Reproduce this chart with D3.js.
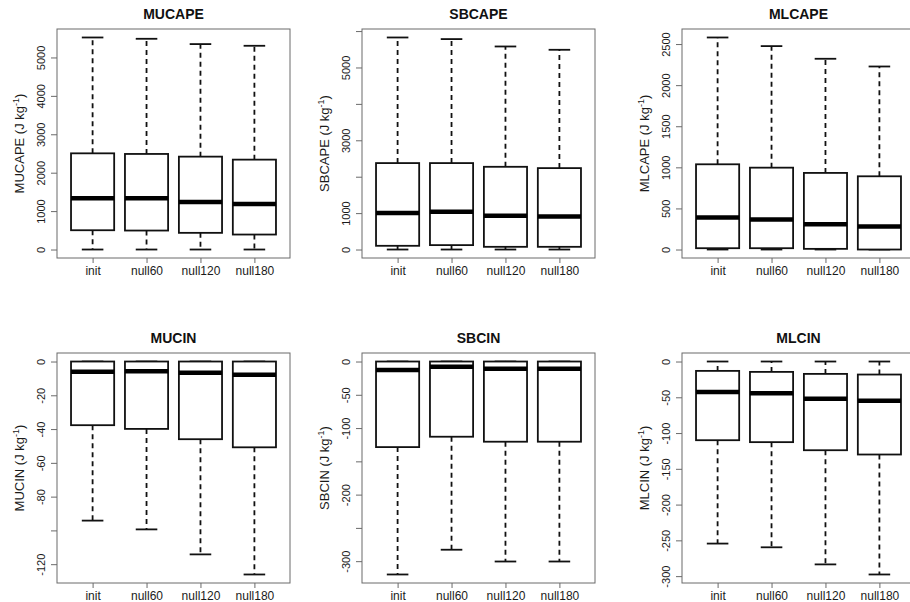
<!DOCTYPE html>
<html>
<head>
<meta charset="utf-8">
<script src="https://cdn.jsdelivr.net/npm/d3@7"></script>
<style>
  body { margin: 0; background: #fff; }
  svg { display: block; font-family: "Liberation Sans", Arial, sans-serif; }
</style>
</head>
<body>
<svg id="chart"></svg>
<script>
// groups on the x axis
var groups = ["init", "null60", "null120", "null180"];

// box stats per group: [lower whisker, Q1, median, Q3, upper whisker]
var mucape = [[0, 502, 1334, 2504, 5520], [0, 494, 1334, 2488, 5486], [0, 434, 1240, 2418, 5348], [0, 390, 1188, 2340, 5304]];
var sbcape = [[0, 102, 1000, 2374, 5824], [0, 121, 1036, 2374, 5780], [0, 74, 926, 2272, 5577], [0, 74, 907, 2236, 5486]];
var mlcape = [[0, 16, 389, 1037, 2580], [0, 16, 365, 996, 2475], [0, 8, 308, 932, 2321], [0, 0, 280, 891, 2227]];
var mucin = [[-94.2, -37.7, -6, 0, 0], [-99.4, -39.9, -5.7, 0, 0], [-114.2, -46, -6.7, 0, 0], [-126.1, -50.8, -7.9, 0, 0]];
var sbcin = [[-320, -128.6, -12.6, 0, 0], [-282.8, -113, -8, 0, 0], [-300.5, -120.5, -11, 0, 0], [-300.5, -120.5, -11, 0, 0]];
var mlcin = [[-254.5, -110, -42.6, -13.1, 0], [-259.7, -112.7, -44.5, -14.5, 0], [-283.6, -124, -52, -17.3, 0], [-297.7, -130, -54.8, -18.2, 0]];

// y ticks and which of them carry a label
var mucapeTicks = [0, 1000, 2000, 3000, 4000, 5000];
var mucapeLabels = [0, 1000, 2000, 3000, 4000, 5000];
var sbcapeTicks = [0, 1000, 2000, 3000, 4000, 5000, 6000];
var sbcapeLabels = [0, 1000, 3000, 5000];
var mlcapeTicks = [0, 500, 1000, 1500, 2000, 2500];
var mlcapeLabels = [0, 500, 1000, 1500, 2000, 2500];
var mucinTicks = [0, -20, -40, -60, -80, -100, -120];
var mucinLabels = [0, -20, -40, -60, -80, -120];
var sbcinTicks = [0, -50, -100, -150, -200, -250, -300];
var sbcinLabels = [0, -50, -100, -200, -300];
var mlcinTicks = [0, -50, -100, -150, -200, -250, -300];
var mlcinLabels = [0, -50, -100, -150, -200, -250, -300];

var width = 910, height = 602;

var svg = d3.select("#chart")
  .attr("width", width)
  .attr("height", height);

// plot frames (left, top, right, bottom)
var panels = [
  {name: "MUCAPE", stats: mucape, ticks: mucapeTicks, labels: mucapeLabels, box: [57, 29, 290, 258]},
  {name: "SBCAPE", stats: sbcape, ticks: sbcapeTicks, labels: sbcapeLabels, box: [362, 29, 595, 258]},
  {name: "MLCAPE", stats: mlcape, ticks: mlcapeTicks, labels: mlcapeLabels, box: [682, 29, 915, 258]},
  {name: "MUCIN", stats: mucin, ticks: mucinTicks, labels: mucinLabels, box: [57, 353, 290, 583]},
  {name: "SBCIN", stats: sbcin, ticks: sbcinTicks, labels: sbcinLabels, box: [362, 353, 595, 583]},
  {name: "MLCIN", stats: mlcin, ticks: mlcinTicks, labels: mlcinLabels, box: [682, 353, 915, 583]}
];

panels.forEach(function(p) {
  var left = p.box[0], top = p.box[1], right = p.box[2], bottom = p.box[3];
  var g = svg.append("g");

  // R style ranges: 4% padding
  var lo = d3.min(p.stats, function(d) { return d[0]; });
  var hi = d3.max(p.stats, function(d) { return d[4]; });
  var pad = (hi - lo) * 0.04;
  var y = d3.scaleLinear().domain([lo - pad, hi + pad]).range([bottom, top]);
  var x = d3.scaleLinear().domain([0.34, 4.66]).range([left, right]);
  var bw = x(1.4) - x(1); // half box width
  var cw = x(1.2) - x(1); // half staple width

  var b = g.selectAll(".bx")
    .data(p.stats)
    .enter()
    .append("g")
    .attr("class", "bx");

  // whiskers (dashed)
  b.append("line")
    .attr("x1", function(d, i) { return x(i + 1); })
    .attr("x2", function(d, i) { return x(i + 1); })
    .attr("y1", function(d) { return y(d[3]); })
    .attr("y2", function(d) { return y(d[4]); })
    .attr("stroke", "#111").attr("stroke-width", 1.8).attr("stroke-dasharray", "5,4");
  b.append("line")
    .attr("x1", function(d, i) { return x(i + 1); })
    .attr("x2", function(d, i) { return x(i + 1); })
    .attr("y1", function(d) { return y(d[1]); })
    .attr("y2", function(d) { return y(d[0]); })
    .attr("stroke", "#111").attr("stroke-width", 1.8).attr("stroke-dasharray", "5,4");

  // staples
  [0, 4].forEach(function(k) {
    b.append("line")
      .attr("x1", function(d, i) { return x(i + 1) - cw; })
      .attr("x2", function(d, i) { return x(i + 1) + cw; })
      .attr("y1", function(d) { return y(d[k]); })
      .attr("y2", function(d) { return y(d[k]); })
      .attr("stroke", "#111").attr("stroke-width", 1.8);
  });

  b.append("rect")
    .attr("x", function(d, i) { return x(i + 1) - bw; })
    .attr("width", bw * 2)
    .attr("y", function(d) { return y(d[3]); })
    .attr("height", function(d) { return y(d[1]) - y(d[3]); })
    .attr("fill", "#fff")
    .attr("stroke", "#111").attr("stroke-width", 1.8);

  // medians
  b.append("line")
    .attr("x1", function(d, i) { return x(i + 1) - bw; })
    .attr("x2", function(d, i) { return x(i + 1) + bw; })
    .attr("y1", function(d) { return y(d[2]); })
    .attr("y2", function(d) { return y(d[2]); })
    .attr("stroke", "#000").attr("stroke-width", 4.5);

  // frame
  g.append("rect")
    .attr("x", left).attr("y", top)
    .attr("width", right - left).attr("height", bottom - top)
    .attr("fill", "none").attr("stroke", "#6a6a6a").attr("stroke-width", 1);

  // y axis
  var ya = g.append("g")
    .attr("transform", "translate(" + left + ",0)")
    .call(d3.axisLeft(y)
      .tickValues(p.ticks)
      .tickSize(6)
      .tickSizeOuter(0)
      .tickFormat(function(d) { return p.labels.indexOf(d) >= 0 ? d : ""; }));
  ya.select(".domain").remove();
  ya.selectAll("line").attr("stroke", "#6a6a6a");
  ya.selectAll("text")
    .attr("transform", "rotate(-90)")
    .attr("x", 0).attr("y", -16).attr("dy", "0.36em")
    .attr("text-anchor", "middle")
    .attr("fill", "#1a1a1a")
    .style("font-size", "11px")
    .style("font-family", "'Liberation Sans', Arial, sans-serif");

  // x axis
  var xa = g.append("g")
    .attr("transform", "translate(0," + bottom + ")")
    .call(d3.axisBottom(x)
      .tickValues([1, 2, 3, 4])
      .tickSize(5)
      .tickSizeOuter(0)
      .tickFormat(function(d) { return groups[d - 1]; }));
  xa.select(".domain").remove();
  xa.selectAll("line").attr("stroke", "#6a6a6a");
  xa.selectAll("text")
    .attr("y", 17).attr("dy", 0)
    .attr("fill", "#1a1a1a")
    .style("font-size", "12px")
    .style("font-family", "'Liberation Sans', Arial, sans-serif");

  // title
  g.append("text")
    .attr("x", (left + right) / 2)
    .attr("y", top - 10)
    .attr("text-anchor", "middle")
    .style("font-size", "14px")
    .style("font-weight", "bold")
    .attr("fill", "#111")
    .text(p.name);

  // y label
  var cy = (top + bottom) / 2;
  var yl = g.append("text")
    .attr("transform", "translate(" + (left - 33) + "," + cy + ") rotate(-90)")
    .attr("text-anchor", "middle")
    .style("font-size", "13px")
    .attr("fill", "#1a1a1a");
  yl.append("tspan").text(p.name + " (J kg");
  yl.append("tspan").attr("dy", -5).style("font-size", "9px").text("-1");
  yl.append("tspan").attr("dy", 5).text(")");
});
</script>
</body>
</html>
